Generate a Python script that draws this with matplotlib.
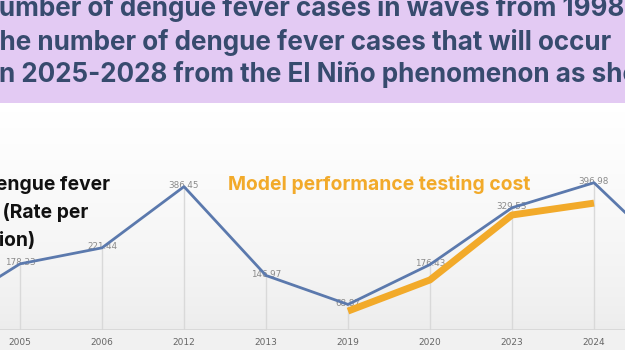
import numpy as np
import matplotlib
matplotlib.use("Agg")
import matplotlib.pyplot as plt
from matplotlib.colors import LinearSegmentedColormap

# data (first and last points sit just outside the visible crop)
years = ["1998", "2005", "2006", "2012", "2013", "2019", "2020", "2023", "2024", "2025"]
cases = [40, 178.33, 221.44, 386.45, 146.97, 68.87, 176.43, 329.53, 396.98, 186]
labels = ["", "178.33", "221.44", "386.45", "146.97", "68.87", "176.43", "329.53", "396.98", ""]
model_years = ["2019", "2020", "2023", "2024"]
model_cost = [51, 135, 310, 342]

title_lines = [
    ("N", "umber of dengue fever cases in waves from 1998"),
    ("T", "he number of dengue fever cases that will occur"),
    ("i", "n 2025-2028 from the El Niño phenomenon as shown"),
]
side_lines = ["Dengue fever", "cases (Rate per", "100,000 population)"]
series_label = "Model performance testing cost"

W, H = 625, 350
fig = plt.figure(figsize=(6.25, 3.5), dpi=100)
fig.patch.set_facecolor("white")
renderer = fig.canvas.get_renderer()


def width_px(s, size, family):
    t = fig.text(0, 0, s, fontsize=size, fontweight="bold", family=family)
    w = t.get_window_extent(renderer).width
    t.remove()
    return w


# purple title band
band = fig.add_axes([0, 1 - 103 / H, 1, 103 / H])
band.set_facecolor("#e3caf3")
band.set_xticks([])
band.set_yticks([])
for s in band.spines.values():
    s.set_visible(False)

title_font = "Inter"
title_color = "#374b6e"
tsize = 17 * 612 / width_px(title_lines[1][1], 17, title_font)
for i, (pre, rest) in enumerate(title_lines):
    x0 = -width_px(pre, tsize, title_font) - 1
    fig.text(x0 / W, 1 - (9 + 33 * i) / H, pre + rest, fontsize=tsize, fontweight="bold",
             family=title_font, color=title_color, ha="left", va="center")

# chart axes
base_px = 330
top_px = 112
scale = 0.371  # px per unit
step = 82
ax = fig.add_axes([0, (H - base_px) / H, 1, (base_px - top_px) / H])
xlim = (1 - 20 / step, 8 + 31 / step)
ylim = (0, (base_px - top_px) / scale)

# soft grey gradient background
grad = np.linspace(0.0, 1.0, 256).reshape(-1, 1) ** 0.7
ax.imshow(grad, extent=[xlim[0], xlim[1], ylim[0], ylim[1]], aspect="auto",
          cmap=LinearSegmentedColormap.from_list("g", ["#ececec", "#ffffff"]),
          origin="lower", zorder=0)
fig.add_artist(plt.Rectangle((0, 0), 1, (H - base_px) / H, transform=fig.transFigure,
                             color="#f1f1f1", zorder=0))

x = np.arange(len(years))
xm = [years.index(y) for y in model_years]

ax.vlines(x, 0, cases, color="#d9d9d9", linewidth=1, zorder=1)
ax.axhline(0, color="#d6d6d6", linewidth=1.2, zorder=1)
ax.plot(xm, model_cost, color="#f2aa2a", linewidth=5, solid_capstyle="butt", zorder=3)
ax.plot(x, cases, color="#5b79ad", linewidth=2, zorder=4)

for xi, v, lab in zip(x, cases, labels):
    if lab:
        ax.text(xi, v + 3, lab, fontsize=6.3, color="#8a8a8a", ha="center", va="center",
                family="DejaVu Sans", zorder=2)

ax.set_xticks(x)
ax.set_xticklabels(years, fontsize=6.5, color="#666666", family="DejaVu Sans")
ax.tick_params(axis="x", length=0, pad=6)
ax.set_yticks([])
for s in ax.spines.values():
    s.set_visible(False)
ax.set_xlim(xlim)
ax.set_ylim(ylim)

lab_font = "Inter"
lsize = 13 * 302 / width_px(series_label, 13, lab_font)
fig.text(228 / W, 1 - 185 / H, series_label, fontsize=lsize, fontweight="bold",
         family=lab_font, color="#f2aa2a", ha="left", va="center")
ends = [110, 88, 35]
for i, line in enumerate(side_lines):
    fig.text(ends[i] / W, 1 - (185 + 27.5 * i) / H, line, fontsize=lsize,
             fontweight="bold", family=lab_font, color="#111111", ha="right", va="center")

fig.savefig("out.png", dpi=100)
